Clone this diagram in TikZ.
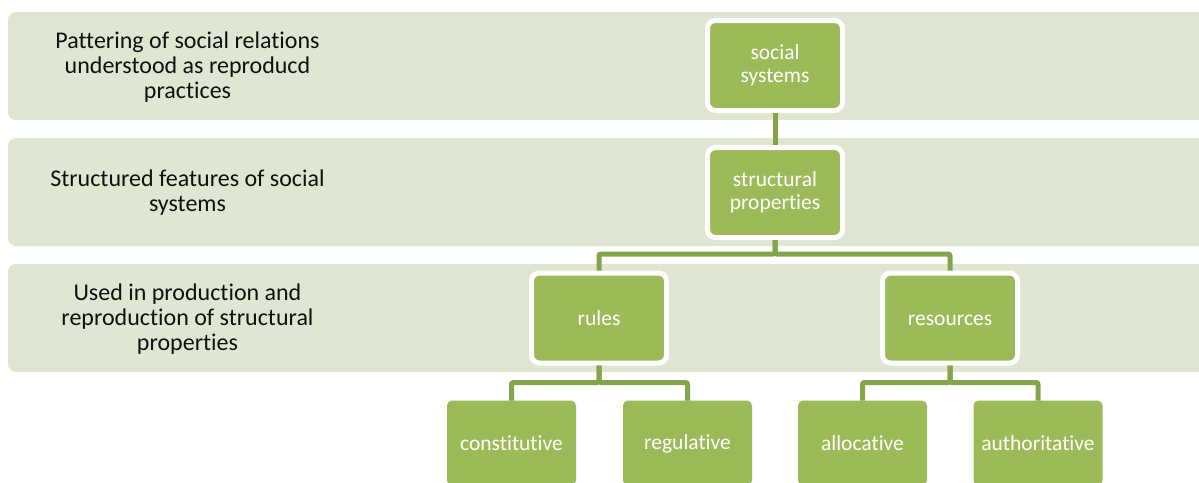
\documentclass[tikz,border=0pt]{standalone}
\usepackage{xcolor}
\usepackage{fontspec}
\setmainfont{Carlito}[Ligatures=NoCommon]
\definecolor{bandfill}{HTML}{DFE7D2}
\definecolor{boxgreen}{HTML}{9BBB59}
\definecolor{linkgreen}{HTML}{84A44C}
\definecolor{labelink}{HTML}{111111}
% fixed line height for one-line box texts
\newcommand{\boxline}{\rule{0pt}{16pt}}
\begin{document}
\begin{tikzpicture}[x=1pt,y=-1pt,
  band/.style={fill=bandfill, rounded corners=8pt},
  bandlabel/.style={text=labelink, align=center, font=\fontsize{24}{25}\selectfont},
  midbox/.style={rectangle, rounded corners=8pt, fill=boxgreen, draw=white, line width=5pt,
    minimum width=135pt, minimum height=90pt, inner sep=2pt, text=white, align=center,
    font=\fontsize{21.5}{22.5}\selectfont},
  leafbox/.style={rectangle, rounded corners=5pt, fill=boxgreen, draw=none, outer sep=0pt,
    minimum width=129pt, minimum height=85pt, inner sep=2pt, text=white, align=center,
    font=\fontsize{21.5}{22.5}\selectfont},
  link/.style={draw=linkgreen, line width=5pt, rounded corners=2pt}
]
\useasboundingbox (0,0) rectangle (1199,482);
\clip (0,0) rectangle (1199,482);

% background bands
\path[band] (8,12) rectangle (1215,120);
\path[band] (8,138) rectangle (1215,246);
\path[band] (8,264) rectangle (1215,372);

% band descriptions
\node[bandlabel] (lab1) at (187.5,67) {Pattering of social relations\\understood as reproducd\\practices};
\node[bandlabel] (lab2) at (187.5,193) {Structured features of social\\systems};
\node[bandlabel] (lab3) at (187.5,319) {Used in production and\\reproduction of structural\\properties};

% hierarchy
\node[midbox] (soc) at (775,65.5) {social\\systems};
\node[midbox] (str) at (775,192.5) {structural\\properties};
\node[midbox] (rul) at (599,318) {\boxline rules};
\node[midbox] (res) at (950,318) {\boxline resources};

\node[leafbox] (con) at (511.5,443) {\boxline constitutive};
\node[leafbox] (reg) at (687.5,443) {\boxline regulative};
\node[leafbox] (all) at (862.5,443) {\boxline allocative};
\node[leafbox] (aut) at (1038,443) {\boxline authoritative};

% connectors
\draw[link] (soc.south) -- (str.north);
\draw[link] (str.south) -- ++(0,14) -| (rul.north);
\draw[link] (str.south) -- ++(0,14) -| (res.north);
\draw[link] (rul.south) -- ++(0,17) -| (con.north);
\draw[link] (rul.south) -- ++(0,17) -| (reg.north);
\draw[link] (res.south) -- ++(0,17) -| (all.north);
\draw[link] (res.south) -- ++(0,17) -| (aut.north);
\end{tikzpicture}
\end{document}
